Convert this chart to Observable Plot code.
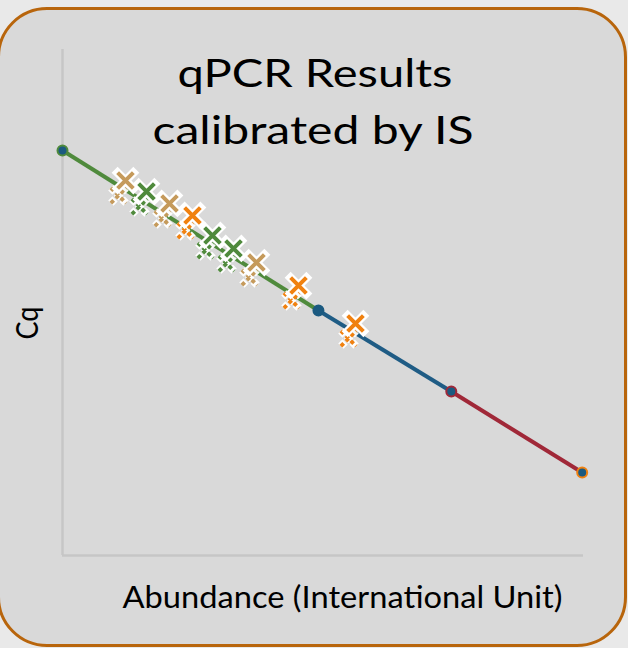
<!DOCTYPE html>
<html><head><meta charset="utf-8">
<script src="https://cdn.jsdelivr.net/npm/d3@7"></script>
<script src="https://cdn.jsdelivr.net/npm/@observablehq/plot@0.6"></script>
<style>
html,body{margin:0;padding:0;background:#e9e9e9;width:628px;height:648px;overflow:hidden;}
#panel{position:absolute;left:-3px;top:7px;width:624px;height:634px;background:#d9d9d9;border:3px solid #b8650c;border-radius:50px;}
#chart{position:absolute;left:0;top:0;}
</style></head><body><div id="panel"></div><div id="chart"></div>
<script>
// Calibration curve points (abundance, Cq)
const curveX = [0, 3.93, 5.97, 7.98];
const curveCq = [32.02, 19.37, 12.96, 6.56];
const curveOutline = ["#4f8a3c", "#1b5a80", "#a02838", "#f08110"];
const segmentColors = ["#4f8a3c", "#1f5c85", "#a02838"];

// Samples
const sampleX = [0.967, 1.29, 1.643, 1.996, 2.303, 2.626, 2.979, 3.624, 4.499];
const sampleCq = [29.64, 28.77, 27.83, 26.88, 25.30, 24.27, 23.16, 21.34, 18.34];
const sampleGroup = ["tan", "green", "tan", "orange", "green", "green", "tan", "orange", "orange"];
const groupColors = {tan: "#c59a5b", green: "#4f8a3c", orange: "#f08110"};

const titleLines = ["qPCR Results", "calibrated by IS"];
const xLabel = "Abundance (International Unit)";
const yLabel = "Cq";

const curve = curveX.map((x, i) => ({x, y: curveCq[i], outline: curveOutline[i]}));
const segments = segmentColors.map((c, i) => ({x1: curveX[i], y1: curveCq[i], x2: curveX[i+1], y2: curveCq[i+1], color: c}));
const samples = sampleX.map((x, i) => ({x, y: sampleCq[i], color: groupColors[sampleGroup[i]]}));

const font = "Lato, 'Open Sans', sans-serif";

const chart = Plot.plot({
  width: 628, height: 648,
  marginLeft: 62, marginRight: 45, marginTop: 49, marginBottom: 93,
  style: {background: "transparent", overflow: "visible"},
  x: {domain: [0, 8], axis: null},
  y: {domain: [0, 40], axis: null},
  marks: [
    Plot.ruleX([0], {stroke: "#c6c6c6", strokeWidth: 2.5}),
    Plot.ruleY([0], {stroke: "#c6c6c6", strokeWidth: 2.5}),
    Plot.link(segments, {x1: "x1", y1: "y1", x2: "x2", y2: "y2", stroke: d => d.color, strokeWidth: 4}),
    Plot.dot(curve, {x: "x", y: "y", r: 5, fill: "#1b5a80", stroke: d => d.outline, strokeWidth: 2}),
    // reflection
    Plot.dot(samples, {x: "x", y: "y", dx: -7, dy: 15, symbol: "times", r: 7, stroke: "white", strokeWidth: 7.5, strokeDasharray: "6,2", strokeOpacity: 0.95}),
    Plot.dot(samples, {x: "x", y: "y", dx: -7, dy: 15, symbol: "times", r: 7, stroke: d => d.color, strokeWidth: 3.8, strokeDasharray: "4,3"}),
    // markers
    Plot.dot(samples, {x: "x", y: "y", symbol: "times", r: 7.2, stroke: "white", strokeWidth: 8.5, strokeLinecap: "square"}),
    Plot.dot(samples, {x: "x", y: "y", symbol: "times", r: 7.2, stroke: d => d.color, strokeWidth: 4}),
    Plot.text([titleLines[0]], {frameAnchor: "top", text: d => d, dx: -8, dy: 37, lineAnchor: "bottom", fontSize: 38, fontFamily: font, fill: "black"}),
    Plot.text([titleLines[1]], {frameAnchor: "top", text: d => d, dx: -10, dy: 94, lineAnchor: "bottom", fontSize: 38, fontFamily: font, fill: "black"}),
    Plot.text([xLabel], {frameAnchor: "bottom", text: d => d, dx: 19.5, dy: 52, lineAnchor: "bottom", fontSize: 30, fontFamily: font, fill: "black"}),
    Plot.text([yLabel], {frameAnchor: "left", text: d => d, dx: -34, dy: 37, rotate: -90, lineAnchor: "middle", fontSize: 31, fontFamily: font, fill: "black"})
  ]
});
// fit text widths to the reference proportions
const lengths = {[titleLines[0]]: 275, [titleLines[1]]: 321, [xLabel]: 440, [yLabel]: 33};
chart.querySelectorAll("text").forEach(t => {
  const s = t.textContent;
  if (lengths[s]) { t.setAttribute("textLength", lengths[s]); t.setAttribute("lengthAdjust", "spacingAndGlyphs"); }
});
document.getElementById("chart").appendChild(chart);
</script></body></html>
